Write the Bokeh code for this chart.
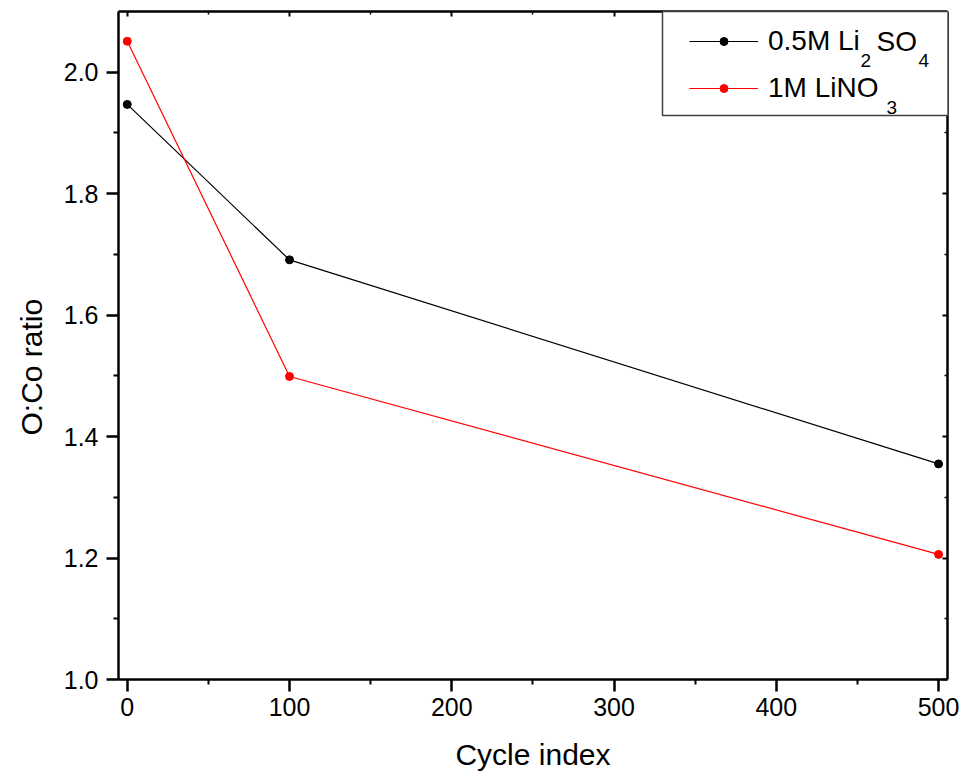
from bokeh.plotting import figure
from bokeh.models import (Range1d, LinearAxis, FixedTicker, NumeralTickFormatter,
                          Legend, LegendItem, Label, BoxAnnotation, Title)
from bokeh.embed import file_html
from bokeh.resources import INLINE

# O:Co ratio after cycling in two electrolytes
cycles = [0, 100, 500]
ratio_li2so4 = [1.947, 1.691, 1.355]
ratio_lino3 = [2.051, 1.499, 1.206]

x_major = [0, 100, 200, 300, 400, 500]
x_minor = [50, 150, 250, 350, 450]
y_major = [1.0, 1.2, 1.4, 1.6, 1.8, 2.0]
y_minor = [1.1, 1.3, 1.5, 1.7, 1.9]

FONT = "Liberation Sans"

p = figure(width=963, height=777, output_backend="svg", toolbar_location=None,
           x_range=Range1d(-5.4, 505.5), y_range=Range1d(1.0, 2.1),
           min_border_left=117, min_border_right=16, min_border_top=11,
           min_border_bottom=98,
           x_axis_label="Cycle index")
p.grid.visible = False
p.outline_line_color = None
p.background_fill_color = "white"
p.border_fill_color = "white"

xt = FixedTicker(ticks=x_major, minor_ticks=x_minor)
yt = FixedTicker(ticks=y_major, minor_ticks=y_minor)


def style_main(ax, ticker):
    ax.ticker = ticker
    ax.axis_line_width = 2.5
    ax.axis_line_color = "black"
    ax.major_tick_line_width = 2.5
    ax.minor_tick_line_width = 2
    ax.major_tick_out = 12
    ax.major_tick_in = 0
    ax.minor_tick_out = 5
    ax.minor_tick_in = 0
    ax.major_label_text_font = FONT
    ax.major_label_text_font_size = "25px"
    ax.major_label_text_color = "black"
    ax.axis_label_text_font = FONT
    ax.axis_label_text_font_size = "30px"
    ax.axis_label_text_font_style = "normal"
    ax.axis_label_text_color = "black"


xa = p.xaxis[0]
ya = p.yaxis[0]
style_main(xa, xt)
style_main(ya, yt)
xa.major_label_standoff = 6
xa.axis_label_standoff = 19
ya.major_label_standoff = 8
ya.formatter = NumeralTickFormatter(format="0.0")

# vertical axis title, starting a fixed distance above the frame bottom
p.add_layout(Title(text="O:Co ratio", align="left", offset=244, standoff=25,
                   text_font=FONT, text_font_size="30px", text_font_style="normal",
                   text_color="black"), "left")


def frame_axis(ticker):
    # plain frame edge with short inward ticks and no labels
    ax = LinearAxis(ticker=ticker)
    ax.axis_line_width = 2.5
    ax.major_tick_line_width = 2
    ax.minor_tick_line_width = 1.5
    ax.major_tick_in = 5
    ax.major_tick_out = 0
    ax.minor_tick_in = 3
    ax.minor_tick_out = 0
    ax.major_label_text_color = None
    ax.major_label_text_font_size = "1px"
    ax.major_label_standoff = 0
    return ax


p.add_layout(frame_axis(FixedTicker(ticks=x_major, minor_ticks=x_minor)), "above")
p.add_layout(frame_axis(FixedTicker(ticks=y_major, minor_ticks=y_minor)), "right")

# data series
black_line = p.line(cycles, ratio_li2so4, line_color="black", line_width=1.2)
black_pts = p.scatter(cycles, ratio_li2so4, size=8, fill_color="black", line_color="black")
red_line = p.line(cycles, ratio_lino3, line_color="#ff0000", line_width=1.2)
red_pts = p.scatter(cycles, ratio_lino3, size=8, fill_color="#ff0000", line_color="#ff0000")

# legend frame
p.add_layout(BoxAnnotation(left=544, right=830, top=668, bottom=564,
                           left_units="screen", right_units="screen",
                           top_units="screen", bottom_units="screen",
                           fill_color="white", fill_alpha=1.0,
                           line_color="#404040", line_width=1.5, line_alpha=1.0))

legend = Legend(items=[LegendItem(label="0.5M Li", renderers=[black_line, black_pts]),
                       LegendItem(label="1M LiNO", renderers=[red_line, red_pts])],
                location=(571, 571), orientation="vertical", padding=0, margin=0,
                spacing=7, glyph_width=69, glyph_height=20, label_height=40,
                label_standoff=10, label_text_font=FONT, label_text_font_size="28px",
                label_text_color="black", border_line_color=None,
                background_fill_alpha=0)
p.add_layout(legend)


def piece(x, y, text, size):
    p.add_layout(Label(x=x, y=y, x_units="screen", y_units="screen", text=text,
                       text_font=FONT, text_font_size=size, text_color="black",
                       text_baseline="middle", text_align="left"))


# subscripted remainders of the legend entries (row centres at 638 and 591)
piece(742, 619, "2", "19px")
piece(758, 638, "SO", "28px")
piece(800, 619, "4", "19px")
piece(768, 572, "3", "19px")

open("out.html", "w").write(file_html(p, INLINE))
